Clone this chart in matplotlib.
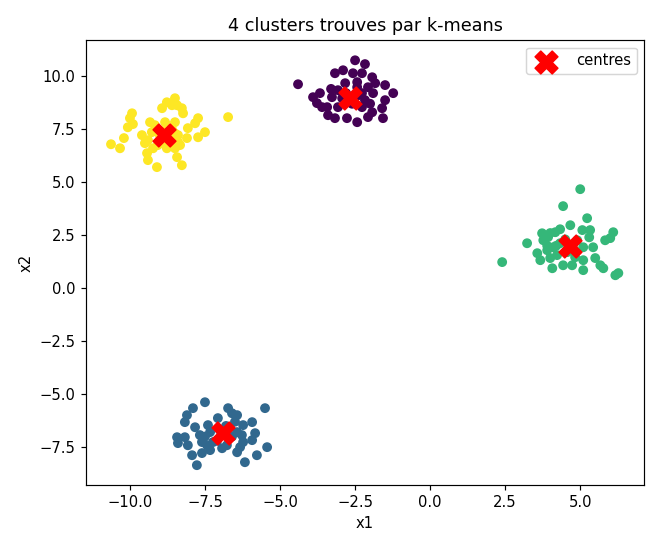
import numpy as np
import matplotlib
matplotlib.use("Agg")
import matplotlib.pyplot as plt

# cluster 0 (violet)
x_c0 = [-4.40, -3.90, -3.67, -3.77, -3.60, -3.40, -3.17, -3.43, -3.27, -3.17, -2.90, -2.50, -2.17,
        -2.57, -2.27, -1.93, -1.83, -1.50, -1.23, -1.50, -1.60, -1.57, -1.93, -2.07, -2.43, -2.77,
        -3.07, -2.27, -1.90, -2.07, -2.83, -2.43, -3.07, -2.27, -2.93, -2.17, -2.43,
        -2.6, -2.8, -2.4, -3.3, -2.0]
y_c0 = [9.62, 9.01, 9.20, 8.73, 8.54, 8.16, 8.02, 8.54, 9.01, 10.14, 10.28, 10.75, 10.57,
        10.14, 10.14, 9.95, 9.67, 9.58, 9.20, 8.87, 8.49, 8.02, 8.30, 8.07, 7.83, 8.02,
        8.54, 8.54, 9.20, 9.48, 9.67, 9.72, 9.34, 9.20, 8.96, 8.87, 9.48,
        8.7, 9.2, 9.1, 9.4, 8.7]

# cluster 1 (bleu)
x_c1 = [-7.50, -7.90, -8.10, -8.17, -8.43, -8.40, -8.07, -7.93, -7.77, -7.60, -7.33, -7.83, -7.67,
        -7.43, -7.07, -6.73, -6.60, -6.43, -6.67, -6.23, -5.93, -5.83, -5.93, -6.23, -6.33, -6.43,
        -6.17, -5.77, -5.43, -5.50, -6.93, -6.77, -7.33, -7.40, -6.43, -6.27, -7.60, -8.17, -7.23,
        -7.0, -6.6, -7.1, -6.8, -7.5, -6.5]
y_c1 = [-5.38, -5.66, -5.99, -6.32, -7.03, -7.31, -7.41, -7.88, -8.35, -7.78, -7.64, -6.56, -6.93,
        -7.41, -6.13, -5.66, -5.90, -5.99, -6.56, -6.46, -6.32, -6.84, -7.17, -7.26, -7.50, -7.74,
        -8.21, -7.88, -7.50, -5.66, -7.55, -7.41, -6.79, -6.46, -6.79, -6.93, -7.26, -7.03, -7.26,
        -6.7, -7.0, -7.2, -6.5, -7.0, -6.3]

# cluster 2 (vert)
x_c2 = [5.00, 4.43, 5.23, 4.67, 3.23, 2.40, 3.73, 3.93, 3.77, 4.17, 4.33, 3.57, 3.67, 4.00, 4.07,
        4.43, 4.73, 5.10, 5.10, 5.50, 5.67, 5.77, 6.10, 6.00, 5.83, 5.33, 5.07, 5.43, 5.10, 4.10,
        4.23, 6.17, 6.27, 4.83, 4.90, 4.33, 4.57, 3.90,
        4.5, 4.2, 4.8, 4.0, 5.3, 3.9]
y_c2 = [4.67, 3.87, 3.30, 2.97, 2.12, 1.23, 2.59, 2.41, 2.26, 2.64, 2.78, 1.65, 1.32, 1.42, 0.94,
        1.08, 1.08, 1.32, 0.85, 1.42, 1.08, 0.94, 2.64, 2.36, 2.26, 2.74, 2.74, 1.93, 1.93, 1.93,
        1.56, 0.61, 0.71, 1.46, 2.26, 2.12, 1.70, 1.79,
        2.3, 2.0, 1.8, 2.6, 2.4, 2.0]

# cluster 3 (jaune)
x_c3 = [-10.63, -10.33, -10.20, -10.07, -9.93, -10.00, -9.90, -9.60, -9.50, -9.43, -9.40, -9.10,
        -9.33, -8.93, -8.77, -8.50, -8.43, -8.27, -8.23, -8.60, -6.73, -7.73, -7.83, -8.07, -7.50,
        -7.73, -8.10, -8.40, -8.33, -8.50, -8.43, -8.27, -8.77, -9.07, -9.23, -9.40, -9.17, -8.83,
        -8.50, -9.27, -8.60, -8.93,
        -8.9, -8.6, -8.7, -8.9, -9.0, -8.5, -8.4]
y_c3 = [6.79, 6.60, 7.08, 7.59, 8.25, 8.02, 7.74, 7.22, 6.84, 6.37, 6.04, 5.71,
        7.83, 8.49, 8.77, 8.96, 8.63, 8.49, 8.25, 8.63, 8.07, 8.02, 7.78, 7.55, 7.36,
        7.12, 7.08, 7.22, 6.75, 6.60, 6.18, 5.80, 6.60, 6.75, 6.60, 6.98, 7.69, 7.83,
        7.83, 7.36, 7.08, 7.08,
        7.4, 7.5, 7.0, 6.9, 7.2, 7.3, 6.9]

centres_x = [-2.67, -6.90, 4.67, -8.87]
centres_y = [8.96, -6.84, 1.98, 7.22]

x1 = np.array(x_c0 + x_c1 + x_c2 + x_c3)
x2 = np.array(y_c0 + y_c1 + y_c2 + y_c3)
labels = np.array([0] * len(x_c0) + [1] * len(x_c1) + [2] * len(x_c2) + [3] * len(x_c3))

dpi = 106
fig = plt.figure(figsize=(660 / dpi, 550 / dpi), dpi=dpi)
ax = fig.add_axes([0.13, 0.118, 0.846, 0.809])
ax.scatter(x1, x2, c=labels, cmap="viridis", s=32)
ax.scatter(centres_x, centres_y, c="red", marker="X", s=240, label="centres")
ax.set_xlim(-11.47, 7.13)
ax.set_ylim(-9.29, 11.70)
ax.set_xlabel("x1")
ax.set_ylabel("x2")
ax.set_title("4 clusters trouves par k-means")
ax.legend(loc="upper right", handletextpad=1.0)

fig.savefig("out.png", dpi=dpi)
